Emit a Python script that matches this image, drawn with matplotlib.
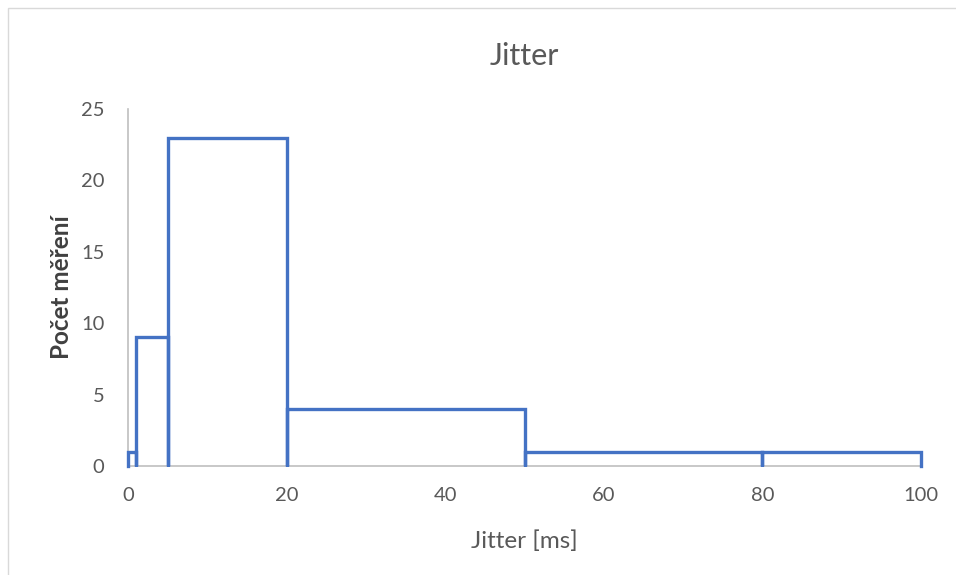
import matplotlib
matplotlib.use("Agg")
import matplotlib.pyplot as plt
from matplotlib.patches import Rectangle

# Histogram bins (Jitter [ms]) and counts
bin_edges = [0, 1, 5, 20, 50, 80, 100]
counts = [1, 9, 23, 4, 1, 1]

x_ticks = [0, 20, 40, 60, 80, 100]
y_ticks = [0, 5, 10, 15, 20, 25]

plt.rcParams['font.family'] = ['Lato', 'DejaVu Sans']

# Build the outline: each bin goes up from 0, across, and down to 0
xs, ys = [], []
for left, right, c in zip(bin_edges[:-1], bin_edges[1:], counts):
    xs += [left, left, right, right]
    ys += [0, c, c, 0]

fig = plt.figure(figsize=(9.56, 5.75), dpi=100)
ax = fig.add_axes([128 / 956, 109 / 575, (921 - 128) / 956, (466 - 109) / 575])

ax.plot(xs, ys, color='#4472C4', lw=2.4, solid_joinstyle='miter', clip_on=False, zorder=3)

ax.set_xlim(0, 100)
ax.set_ylim(0, 25)
ax.set_xticks(x_ticks)
ax.set_yticks(y_ticks)
ax.tick_params(length=0, labelsize=14.5, colors='#595959')
ax.tick_params(axis='x', pad=15)
ax.tick_params(axis='y', pad=17)

for s in ['top', 'right']:
    ax.spines[s].set_visible(False)
for s in ['left', 'bottom']:
    ax.spines[s].set_color('#BFBFBF')
    ax.spines[s].set_linewidth(1.2)

ax.set_title('Jitter', fontsize=22, color='#595959', pad=32)
ax.set_xlabel('Jitter [ms]', fontsize=17.5, color='#595959', labelpad=19)
ax.set_ylabel('Počet měření', fontsize=17.5, color='#404040', fontweight='bold', labelpad=6)

# chart frame
fig.patches.append(Rectangle((8 / 956, -0.01), 1.0, 1 - 8 / 575 + 0.01,
                             transform=fig.transFigure, fill=False,
                             edgecolor='#D9D9D9', lw=1))

fig.savefig('out.png', dpi=100)
